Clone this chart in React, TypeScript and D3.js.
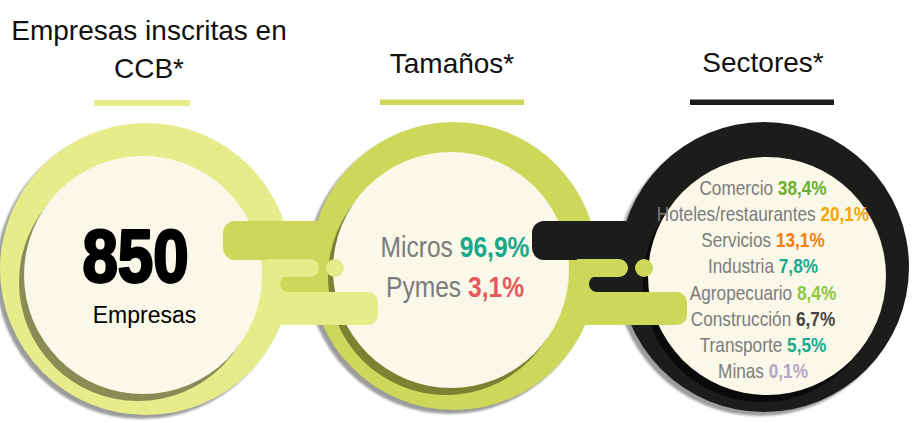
import React from "react";
import * as d3 from "d3";

// ---------- data ----------
const headerLines: string[][] = [["Empresas inscritas en", "CCB*"], ["Tamaños*"], ["Sectores*"]];
const totalCount = 850;
const totalLabel = "Empresas";
const sizeLabels = ["Micros", "Pymes"];
const sizeValues = [96.9, 3.1];
const sectorLabels = [
  "Comercio",
  "Hoteles/restaurantes",
  "Servicios",
  "Industria",
  "Agropecuario",
  "Construcción",
  "Transporte",
  "Minas",
];
const sectorValues = [38.4, 20.1, 13.1, 7.8, 8.4, 6.7, 5.5, 0.1];

// ---------- styles ----------
const sizeColors = ["#17a98a", "#e8585b"];
const sectorColors = ["#6aad2f", "#f6a400", "#f27e16", "#19a98b", "#8dc641", "#444444", "#17aa8c", "#b4a5c9"];
const labelGray = "#7c7c7c";
const cream = "#f9f8e9";
const FONT = "'Liberation Sans', Arial, Helvetica, sans-serif";
const NARROW = 0.82;

const W = 914;
const H = 423;

const locale = d3.formatLocale({ decimal: ",", thousands: ".", grouping: [3], currency: ["$", ""] });
const f1 = locale.format(".1f");
const pct = (v: number) => f1(v) + "%";

const panels = [
  { cx: 146, cy: 269, R: 146, icx: 143, icy: 275, r: 119, ring: "#e6ec8a", shadow: "#8b8b55", head: 149, bar: [94, 190], barColor: "#e6ec8a" },
  { cx: 454, cy: 266, R: 144, icx: 451, icy: 270, r: 118, ring: "#cdd75a", shadow: "#7b8232", head: 452, bar: [380, 524], barColor: "#cdd75a" },
  { cx: 764, cy: 267, R: 145, icx: 767, icy: 276, r: 119, ring: "#1c1d1b", shadow: "#0a0a0a", head: 763, bar: [690, 834], barColor: "#1c1d1b" },
];

// rounded rect with separate left/right corner radii
function rrect(x0: number, y0: number, x1: number, y1: number, rl: number, rr: number) {
  const p = d3.path();
  p.moveTo(x0 + rl, y0);
  p.lineTo(x1 - rr, y0);
  if (rr) p.arcTo(x1, y0, x1, y0 + rr, rr);
  p.lineTo(x1, y1 - rr);
  if (rr) p.arcTo(x1, y1, x1 - rr, y1, rr);
  p.lineTo(x0 + rl, y1);
  if (rl) p.arcTo(x0, y1, x0, y1 - rl, rl);
  p.lineTo(x0, y0 + rl);
  if (rl) p.arcTo(x0, y0, x0 + rl, y0, rl);
  p.closePath();
  return p.toString();
}

const SHIFT = 309;

function ConnectorDark({ i }: { i: number }) {
  const s = i * SHIFT;
  const dark = panels[i + 1].ring;
  return (
    <g>
      <path d={rrect(223 + s, 221, 346 + s, 260, 12, 0)} fill={dark} />
      <path d={rrect(280 + s, 276, 346 + s, 292, 8, 0)} fill={dark} />
    </g>
  );
}

function ConnectorLight({ i }: { i: number }) {
  const s = i * SHIFT;
  const light = panels[i].ring;
  return (
    <g>
      <path d={rrect(268 + s, 259, 319 + s, 277, 0, 9)} fill={light} />
      <path d={rrect(268 + s, 292, 378 + s, 325, 0, 10)} fill={light} />
      <circle cx={335 + s} cy={268} r={9} fill={light} />
    </g>
  );
}

function Inner({ i }: { i: number }) {
  const p = panels[i];
  return (
    <g>
      <circle cx={p.icx - 5} cy={p.icy + 7} r={p.r} fill={p.shadow} />
      <circle cx={p.icx} cy={p.icy} r={p.r} fill={cream} />
    </g>
  );
}

export default function App() {
  const rowY = d3.scaleLinear().domain([0, sectorLabels.length - 1]).range([195, 378]);
  const sizeY = d3.scaleLinear().domain([0, sizeLabels.length - 1]).range([257, 297]);

  return (
    <svg
      width={W}
      height={H}
      viewBox={`0 0 ${W} ${H}`}
      style={{ position: "absolute", left: 0, top: 0, background: "#ffffff" }}
      fontFamily={FONT}
    >
      <defs>
        <filter id="blur1" x="-10%" y="-10%" width="120%" height="120%">
          <feGaussianBlur stdDeviation="1.2" />
        </filter>
      </defs>
      <rect width={W} height={H} fill="#ffffff" />

      {/* headers */}
      {panels.map((p, i) => (
        <g key={"h" + i}>
          {headerLines[i].map((line, j) => (
            <text
              key={j}
              x={p.head}
              y={i === 0 ? 40 + j * 38 : i === 1 ? 73 : 72}
              textAnchor="middle"
              fontSize={28}
              fill="#111111"
            >
              {line}
            </text>
          ))}
          <rect x={p.bar[0]} y={i === 0 ? 100 : 99.5} width={p.bar[1] - p.bar[0]} height={i === 0 ? 6 : 5.5} fill={p.barColor} />
        </g>
      ))}

      {/* outer rings with shadow */}
      {panels.map((p, i) => (
        <g key={"o" + i}>
          <circle cx={p.cx - 4} cy={p.cy + 4} r={p.R} fill="#9c9c9c" filter="url(#blur1)" />
          <circle cx={p.cx} cy={p.cy} r={p.R} fill={p.ring} />
        </g>
      ))}

      <Inner i={0} />
      <ConnectorDark i={0} />
      <Inner i={1} />
      <ConnectorDark i={1} />
      <Inner i={2} />
      <ConnectorLight i={0} />
      <ConnectorLight i={1} />

      {/* panel 1 text */}
      <text
        transform={`translate(135.5,282) scale(0.86,1)`}
        textAnchor="middle"
        fontSize={74}
        fontWeight="bold"
        fill="#000"
        stroke="#000"
        strokeWidth={2.8}
        strokeLinejoin="round"
      >
        {String(totalCount)}
      </text>
      <text x={144.5} y={323} textAnchor="middle" fontSize={23} fill="#000">
        {totalLabel}
      </text>

      {/* panel 2 text */}
      {sizeLabels.map((lab, k) => (
        <text
          key={lab}
          transform={`translate(455,${sizeY(k)}) scale(${NARROW},1)`}
          textAnchor="middle"
          fontSize={30}
        >
          <tspan fill={labelGray}>{lab} </tspan>
          <tspan fill={sizeColors[k]} fontWeight="bold">
            {pct(sizeValues[k])}
          </tspan>
        </text>
      ))}

      {/* panel 3 text */}
      {sectorLabels.map((lab, k) => (
        <text
          key={lab}
          transform={`translate(763,${rowY(k)}) scale(${NARROW},1)`}
          textAnchor="middle"
          fontSize={21}
        >
          <tspan fill={labelGray}>{lab} </tspan>
          <tspan fill={sectorColors[k]} fontWeight="bold">
            {pct(sectorValues[k])}
          </tspan>
        </text>
      ))}
    </svg>
  );
}
